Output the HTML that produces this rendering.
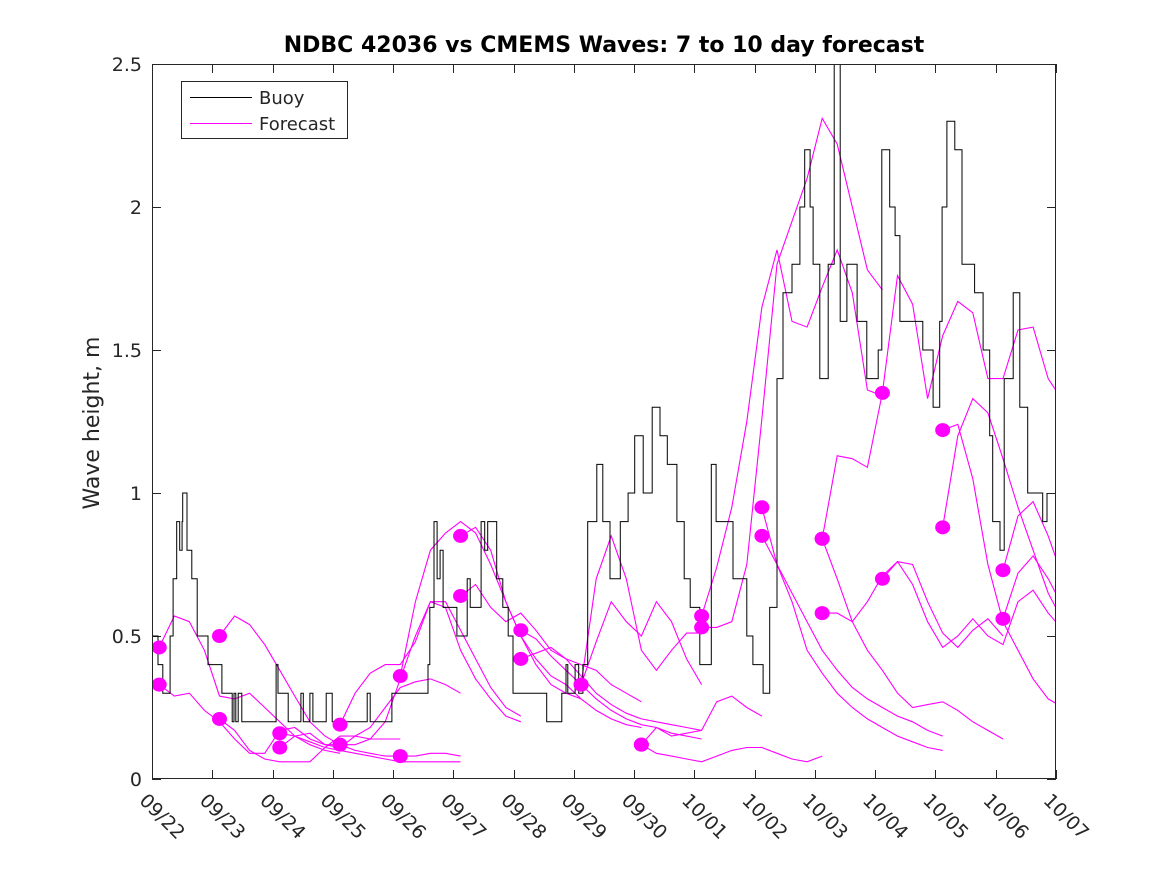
<!DOCTYPE html>
<html><head><meta charset="utf-8"><style>
body{margin:0;background:#fff;}
svg{display:block;}
text{font-family:"DejaVu Sans","Liberation Sans",sans-serif;fill:#262626;}
</style></head><body>
<svg id="chart" width="1167" height="875" viewBox="0 0 1167 875">
<rect x="0" y="0" width="1167" height="875" fill="#fff"/>
<defs><clipPath id="plotclip"><rect x="152" y="64" width="904" height="715"/></clipPath></defs>
<text x="604" y="52" text-anchor="middle" font-size="22" font-weight="bold" style="fill:#000">NDBC 42036 vs CMEMS Waves: 7 to 10 day forecast</text>
<text transform="translate(99,423) rotate(-90)" text-anchor="middle" font-size="22">Wave height, m</text>
<g id="axes"></g>
<g id="series" clip-path="url(#plotclip)"></g>
<rect x="152.5" y="64.5" width="903" height="714" fill="none" stroke="#262626" stroke-width="1"/>
<g>
<rect x="181.5" y="81.5" width="166" height="57" fill="#fff" stroke="#262626"/>
<line x1="190" y1="97.5" x2="252" y2="97.5" stroke="#000" stroke-width="1"/>
<text x="259" y="104" font-size="18">Buoy</text>
<line x1="190" y1="123.5" x2="252" y2="123.5" stroke="#ff00ff" stroke-width="1"/>
<text x="259" y="130" font-size="18">Forecast</text>
</g>
</svg>
<script>
const xTickLabels=["09/22","09/23","09/24","09/25","09/26","09/27","09/28","09/29","09/30","10/01","10/02","10/03","10/04","10/05","10/06","10/07"];
const yTicks=[0,0.5,1,1.5,2,2.5];
const yTickLabels=["0","0.5","1","1.5","2","2.5"];
const buoyDays=[0,0.1,0.18,0.3,0.35,0.41,0.46,0.5,0.51,0.58,0.66,0.75,0.93,1.16,1.33,1.36,1.39,1.43,1.49,2.06,2.09,2.26,2.47,2.51,2.62,2.67,2.89,2.99,3.57,3.62,3.98,4.58,4.61,4.68,4.73,4.78,4.83,5.06,5.23,5.28,5.46,5.52,5.57,5.72,5.82,5.91,5.99,6.55,6.8,6.87,6.9,7.02,7.08,7.15,7.23,7.38,7.48,7.6,7.77,7.9,8.01,8.15,8.3,8.43,8.55,8.71,8.83,8.93,9.09,9.28,9.36,9.47,9.64,9.87,9.97,10.14,10.25,10.37,10.47,10.62,10.75,10.83,10.92,10.97,11.08,11.22,11.32,11.42,11.53,11.7,11.86,12.05,12.11,12.24,12.33,12.41,12.63,12.79,12.96,13.07,13.11,13.19,13.32,13.44,13.65,13.79,13.9,13.95,14.07,14.14,14.29,14.4,14.53,14.78,14.85];
const buoyHeights=[0.5,0.4,0.3,0.5,0.7,0.9,0.8,0.9,1.0,0.8,0.7,0.5,0.4,0.3,0.2,0.3,0.2,0.3,0.2,0.4,0.3,0.2,0.3,0.2,0.3,0.2,0.3,0.2,0.3,0.2,0.3,0.4,0.6,0.9,0.7,0.8,0.6,0.5,0.7,0.6,0.9,0.8,0.9,0.7,0.6,0.5,0.3,0.2,0.3,0.4,0.3,0.4,0.3,0.4,0.9,1.1,0.9,0.7,0.9,1.0,1.2,1.0,1.3,1.2,1.1,0.9,0.7,0.6,0.4,1.1,0.9,0.9,0.7,0.5,0.4,0.3,0.6,1.4,1.7,1.8,2.0,2.2,2.0,1.8,1.4,1.8,2.5,1.6,1.8,1.6,1.4,1.5,2.2,2.0,1.9,1.6,1.6,1.5,1.3,1.6,2.0,2.3,2.2,1.8,1.7,1.5,1.2,0.9,0.8,1.4,1.7,1.3,1.0,0.9,1.0];
const fcStarts=[0.12,0.12,1.12,1.12,2.12,2.12,3.12,3.12,4.12,4.12,5.12,5.12,6.12,6.12,7.12,7.12,8.12,8.12,9.12,9.12,10.12,10.12,11.12,11.12,11.12,12.12,12.12,13.12,13.12,14.12,14.12];
const fcSeries=[
[.46,.57,.55,.45,.29,.28,.30,.25,.20,.15,.12,.10,.09],
[.33,.29,.30,.24,.20,.14,.09,.09,.17,.18,.14,.12,.12],
[.50,.57,.54,.47,.38,.29,.20,.15,.12,.10,.09,.08,.08],
[.21,.17,.10,.07,.06,.06,.06,.11,.15,.15,.14,.14,.14],
[.16,.15,.13,.11,.10,.09,.08,.07,.06,.06,.06,.06,.06],
[.11,.15,.16,.12,.11,.15,.18,.25,.32,.34,.35,.33,.30],
[.19,.30,.37,.40,.40,.48,.62,.62,.52,.42,.32,.25,.22],
[.12,.12,.14,.20,.35,.50,.62,.60,.45,.35,.28,.22,.20],
[.36,.62,.80,.86,.90,.86,.75,.62,.50,.40,.33,.30,.28],
[.08,.08,.09,.09,.08],
[.85,.88,.80,.62,.50,.42,.36,.33,.28,.24,.21,.19,.18],
[.64,.68,.60,.55,.58,.52,.45,.42,.40,.38,.33,.30,.27],
[.52,.49,.43,.38,.33,.28,.24,.21,.19,.18,.16,.15,.14],
[.42,.44,.46,.42,.36,.30,.26,.23,.21,.20,.19,.18,.17],
[.33,.70,.85,.70,.45,.38,.45,.51,.51],
[.33,.48,.62,.55,.50,.62,.55,.42,.33],
[.12,.18,.15,.16,.17,.27,.29,.25,.22],
[.12,.09,.08,.07,.06,.08,.10,.11,.11,.09,.07,.06,.08],
[.57,.74,.95,1.25,1.65,1.85,1.60,1.58,1.72,1.85,1.70,1.36,1.34],
[.53,.53,.55,.75,1.26,1.80,1.95,2.10,2.31,2.22,2.00,1.78,1.71],
[.95,.75,.62,.45,.37,.30,.25,.21,.18,.15,.13,.11,.10],
[.85,.75,.65,.55,.45,.38,.32,.28,.25,.22,.20,.17,.15],
[.84,1.13,1.12,1.09,1.35],
[.84,.70,.55,.45,.38,.30,.25,.26,.27,.24,.20,.17,.14],
[.58,.58,.55,.62,.71,.76,.75,.62,.51,.46,.52,.56,.50],
[1.35,1.76,1.66,1.33,1.55,1.67,1.63,1.40,1.40,1.57,1.58,1.40,1.32],
[.70,.76,.68,.55,.46,.50,.56,.50,.47,.62,.66,.58,.52],
[1.22,1.24,1.05,.75,.55,.45,.35,.28,.25],
[.88,1.20,1.33,1.28,1.12,.95,.80,.65,.55],
[.73,.92,.97,.85,.70],
[.56,.72,.78,.70,.60]
];
const fcStep=0.25;

const NS="http://www.w3.org/2000/svg";
const X0=152,X1=1056,Y0=779,Y1=64,DAYS=15,YMAX=2.5;
function xs(d){return X0+d*(X1-X0)/DAYS;}
function ys(v){return Y0-v*(Y0-Y1)/YMAX;}
function mk(tag,attrs,parent){const e=document.createElementNS(NS,tag);for(const k in attrs)e.setAttribute(k,attrs[k]);parent.appendChild(e);return e;}
const axes=document.getElementById('axes');
const series=document.getElementById('series');

xTickLabels.forEach((lab,i)=>{
  const x=Math.round(xs(i))+0.5;
  const t1=mk('line',{x1:x,y1:Y0,x2:x,y2:Y0-9,stroke:'#262626'},axes);
  
  
  const t2=mk('line',{x1:x,y1:Y1,x2:x,y2:Y1+9,stroke:'#262626'},axes);
  
  
  const tx=mk('text',{x:0,y:0,'font-size':19,'dominant-baseline':'hanging',transform:'translate('+(xs(i)-4)+',792) rotate(45)'},axes);
  tx.textContent=lab;
  
  
});
yTicks.forEach((v,i)=>{
  const y=Math.round(ys(v))+0.5;
  const t1=mk('line',{x1:X0,y1:y,x2:X0+9,y2:y,stroke:'#262626'},axes);
  
  
  const t2=mk('line',{x1:X1,y1:y,x2:X1-9,y2:y,stroke:'#262626'},axes);
  
  
  const tx=mk('text',{x:142,y:ys(v)+7,'text-anchor':'end','font-size':19},axes);
  tx.textContent=yTickLabels[i];
  
  
});

fcSeries.forEach((vals,k)=>{
  const pts=vals.map((v,j)=>xs(fcStarts[k]+j*fcStep).toFixed(1)+','+ys(v).toFixed(1)).join(' ');
  const pl=mk('polyline',{points:pts,fill:'none',stroke:'#ff00ff','stroke-width':1.1},series);
  
  
});
let bp=[];
buoyDays.forEach((d,i)=>{
  if(i>0) bp.push(xs(d).toFixed(1)+','+ys(buoyHeights[i-1]).toFixed(1));
  bp.push(xs(d).toFixed(1)+','+ys(buoyHeights[i]).toFixed(1));
});
const bl=mk('polyline',{points:bp.join(' '),fill:'none',stroke:'#000','stroke-width':1},series);


fcSeries.forEach((vals,k)=>{
  const c=mk('ellipse',{cx:xs(fcStarts[k]),cy:ys(vals[0]),rx:7.5,ry:7,fill:'#ff00ff'},series);
  
  
});
</script>
</body></html>
